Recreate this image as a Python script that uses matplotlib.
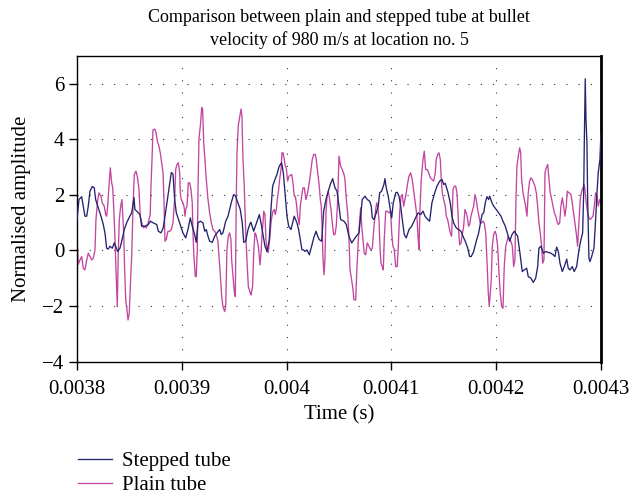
import matplotlib.pyplot as plt
import numpy as np

# time in microseconds, amplitude normalised
stepped_t = [3800.0, 3801.9, 3804.5, 3806.0, 3807.6, 3809.3, 3810.8, 3812.4, 3814.6, 3816.5,
             3817.8, 3820.3, 3822.9, 3825.1, 3826.7, 3828.3, 3829.9, 3831.5, 3833.7, 3835.6,
             3836.9, 3838.8, 3841.0, 3842.7, 3845.1, 3847.4, 3849.6, 3852.2, 3854.4, 3855.3,
             3857.0, 3860.1, 3861.7, 3864.9, 3868.0, 3869.9, 3872.8, 3876.1, 3877.6, 3880.2,
             3882.3, 3884.0, 3890.0, 3891.6, 3893.2, 3894.8, 3898.0, 3901.1, 3903.7, 3905.9,
             3908.1, 3910.0, 3912.3, 3913.8, 3915.5, 3917.7, 3920.2, 3921.9, 3923.4, 3925.0,
             3926.6, 3929.1, 3931.4, 3933.6, 3936.2, 3937.7, 3939.3, 3941.9, 3944.1, 3947.2,
             3949.5, 3951.4, 3953.6, 3955.8, 3957.7, 3959.1, 3961.0, 3963.2, 3965.4, 3966.0,
             3968.6, 3970.8, 3974.0, 3975.6, 3977.2, 3979.4, 3981.3, 3983.5, 3985.1, 3986.7,
             3988.9, 3990.8, 3993.0, 3995.3, 3996.9, 3998.5, 4000.4, 4002.0, 4004.2, 4005.8,
             4007.3, 4009.9, 4011.5, 4013.1, 4014.7, 4016.3, 4017.8, 4019.5, 4021.7, 4023.9,
             4025.9, 4028.1, 4029.7, 4031.2, 4033.5, 4035.4, 4037.6, 4039.8, 4041.7, 4044.0,
             4046.2, 4048.1, 4050.0, 4051.6, 4054.8, 4057.0, 4059.5, 4062.1, 4064.3, 4066.5,
             4069.1, 4070.7, 4072.2, 4074.8, 4077.0, 4079.3, 4080.8, 4081.8, 4083.4, 4085.6,
             4087.5, 4088.8, 4090.7, 4092.9, 4093.9, 4095.1, 4097.0, 4098.7, 4100.3, 4101.8,
             4104.1, 4105.6, 4107.3, 4108.9, 4110.4, 4112.3, 4114.2, 4116.8, 4119.4, 4121.6,
             4123.8, 4125.7, 4128.0, 4130.2, 4132.1, 4134.3, 4136.5, 4138.7, 4140.9, 4143.5,
             4146.1, 4148.3, 4149.9, 4151.4, 4153.7, 4156.2, 4157.8, 4159.4, 4161.9, 4164.2,
             4166.4, 4168.3, 4170.5, 4172.8, 4174.7, 4176.2, 4178.5, 4181.0, 4183.3, 4184.8,
             4186.5, 4188.1, 4189.6, 4191.2, 4192.8, 4193.8, 4196.0, 4197.6, 4200.1, 4202.4,
             4204.6, 4206.5, 4208.7, 4211.0, 4212.9, 4215.1, 4217.3, 4220.5, 4222.7, 4224.9,
             4226.8, 4229.1, 4230.6, 4233.2, 4235.4, 4237.7, 4239.6, 4240.8, 4242.7, 4245.0,
             4247.2, 4249.7, 4252.3, 4254.5, 4256.1, 4257.7, 4259.3, 4260.9, 4263.1, 4265.0,
             4267.3, 4268.8, 4270.4, 4272.6, 4274.5, 4276.8, 4279.0, 4280.9, 4282.5, 4283.5,
             4284.1, 4285.0, 4285.7, 4286.6, 4287.3, 4288.5, 4289.5, 4291.1, 4293.3, 4294.9,
             4296.2, 4297.4, 4299.0, 4300.0]
stepped_amp = [1.10, 1.83, 1.93, 1.60, 1.23, 1.23, 1.60, 2.13, 2.30, 2.25,
               1.83, 1.53, 1.23, 0.93, 0.63, 0.08, 0.05, 0.15, 0.08, 0.27,
               0.15, -0.04, 0.08, 0.33, 0.75, 0.99, 1.17, 1.35, 1.90, 1.47,
               1.41, 1.29, 0.87, 0.87, 0.93, 1.05, 0.99, 0.93, 0.69, 0.63,
               0.81, 1.23, 2.80, 2.75, 1.83, 1.35, 0.99, 0.63, 0.45, 0.75,
               1.17, 0.87, 0.57, 0.29, 0.99, 1.05, 0.99, 0.69, 0.75, 0.51,
               0.33, 0.29, 0.51, 0.63, 0.75, 0.57, 0.63, 1.05, 1.23, 1.71,
               2.01, 1.95, 1.71, 1.47, 0.99, 0.29, 0.33, 0.75, 0.99, 1.01,
               0.69, 0.93, 1.29, 0.99, 0.63, 0.15, -0.04, 0.39, 1.47, 2.31,
               2.55, 2.73, 3.03, 3.15, 2.79, 2.07, 1.23, 0.87, 0.75, 0.99,
               1.23, 0.99, 0.75, 0.39, 0.02, 0.02, -0.04, 0.02, -0.16, 0.15,
               0.45, 0.69, 0.51, 0.39, 0.33, 1.41, 1.83, 2.13, 2.37, 2.58,
               2.25, 2.13, 1.60, 1.11, 1.05, 0.93, 0.51, 0.27, 0.39, 0.51,
               0.63, 1.23, 1.83, 1.95, 1.83, 1.77, 1.59, 1.17, 1.11, 1.35,
               1.59, 2.07, 2.13, 2.37, 2.58, 2.25, 1.95, 1.53, 1.17, 1.71,
               2.07, 2.09, 1.95, 1.59, 1.11, 0.57, 0.45, 0.75, 0.87, 1.05,
               1.23, 1.35, 1.29, 1.41, 1.23, 1.13, 1.05, 1.71, 2.01, 2.31,
               2.49, 2.55, 2.37, 2.41, 2.13, 1.71, 1.23, 0.99, 0.81, 0.75,
               0.69, 0.51, 0.33, 0.09, -0.22, -0.22, -0.04, 0.33, 0.63, 0.93,
               1.29, 1.35, 1.71, 1.93, 1.83, 1.95, 1.71, 1.59, 1.47, 1.35,
               1.23, 1.05, 0.87, 0.57, 0.33, 0.57, 0.69, 0.51, -0.10, -0.76,
               -0.70, -0.64, -0.94, -1.00, -1.15, -1.00, -0.58, 0.08, 0.15, -0.10,
               -0.04, -0.07, -0.10, -0.16, -0.22, 0.12, -0.04, -0.46, -0.76, -0.58,
               -0.31, -0.64, -0.70, -0.58, -0.76, -0.58, 0.02, 0.39, 0.63, 2.07,
               3.88, 6.17, 4.72, 3.88, 1.83, -0.28, -0.40, -0.22, 0.08, 1.11,
               2.07, 2.79, 3.27, 4.24]

plain_t = [3800.0, 3801.2, 3802.9, 3804.5, 3806.0, 3807.6, 3809.3, 3810.8, 3812.4, 3814.0,
           3815.6, 3817.2, 3818.1, 3819.8, 3821.0, 3822.9, 3824.1, 3826.0, 3827.4, 3828.3,
           3829.3, 3830.5, 3831.8, 3833.1, 3834.1, 3835.0, 3836.3, 3837.2, 3838.5, 3839.4,
           3840.4, 3841.7, 3842.9, 3843.6, 3844.6, 3845.5, 3846.5, 3847.7, 3848.7, 3849.9,
           3850.9, 3852.2, 3853.4, 3854.7, 3856.3, 3857.5, 3859.2, 3860.4, 3861.1, 3862.3,
           3863.6, 3864.9, 3866.1, 3867.5, 3868.7, 3869.9, 3870.6, 3871.6, 3872.5, 3874.4,
           3875.7, 3876.6, 3878.2, 3879.5, 3880.8, 3882.1, 3883.0, 3884.0, 3885.2, 3886.8,
           3888.5, 3890.0, 3891.6, 3893.2, 3894.2, 3895.4, 3896.7, 3898.0, 3898.6, 3899.5,
           3901.1, 3902.1, 3903.1, 3903.7, 3905.0, 3906.2, 3907.5, 3908.8, 3910.0, 3910.7,
           3911.6, 3912.9, 3913.8, 3914.8, 3915.5, 3916.4, 3918.0, 3919.0, 3919.9, 3920.9,
           3922.1, 3923.4, 3925.0, 3926.6, 3928.2, 3929.8, 3931.4, 3932.9, 3934.5, 3935.5,
           3936.7, 3938.1, 3939.3, 3940.9, 3941.9, 3943.1, 3944.4, 3945.7, 3946.9, 3947.6,
           3948.9, 3950.1, 3951.1, 3952.0, 3952.7, 3953.9, 3955.2, 3956.5, 3957.4, 3958.4,
           3959.6, 3961.0, 3962.2, 3963.5, 3965.4, 3966.0, 3967.6, 3968.6, 3969.8, 3970.8,
           3971.8, 3973.0, 3974.0, 3974.6, 3975.6, 3976.5, 3977.5, 3978.2, 3979.4, 3980.3,
           3981.3, 3982.5, 3983.9, 3985.1, 3986.1, 3987.0, 3988.3, 3989.2, 3990.2, 3991.1,
           3992.1, 3993.4, 3994.7, 3995.6, 3996.6, 3997.8, 3998.8, 3999.7, 4001.0, 4002.3,
           4003.5, 4004.9, 4006.1, 4007.3, 4008.3, 4009.3, 4010.6, 4012.1, 4013.1, 4014.4,
           4015.6, 4016.9, 4018.5, 4020.1, 4021.7, 4023.3, 4024.5, 4025.9, 4027.4, 4028.3,
           4029.7, 4031.2, 4032.2, 4033.1, 4034.1, 4034.7, 4035.7, 4036.6, 4037.6, 4038.6,
           4039.8, 4041.1, 4042.4, 4043.6, 4044.9, 4046.2, 4047.4, 4048.8, 4050.0, 4051.6,
           4053.1, 4054.8, 4055.7, 4057.0, 4058.3, 4059.5, 4060.5, 4062.1, 4063.4, 4064.3,
           4065.9, 4067.2, 4068.4, 4069.8, 4070.7, 4071.7, 4072.9, 4074.1, 4075.5, 4077.0,
           4078.6, 4080.2, 4081.8, 4082.7, 4083.7, 4085.0, 4086.0, 4086.9, 4088.2, 4089.1,
           4090.1, 4091.3, 4092.3, 4093.2, 4094.6, 4096.1, 4097.7, 4099.3, 4100.3, 4101.5,
           4102.8, 4104.1, 4105.6, 4106.6, 4107.9, 4109.2, 4110.4, 4111.7, 4113.0, 4114.2,
           4115.6, 4116.8, 4118.4, 4119.9, 4121.6, 4123.2, 4124.4, 4125.4, 4126.3, 4127.3,
           4128.5, 4130.2, 4131.4, 4132.7, 4134.3, 4135.6, 4137.1, 4138.7, 4140.4, 4141.9,
           4142.8, 4144.2, 4145.4, 4146.7, 4147.6, 4148.6, 4149.9, 4151.4, 4152.4, 4153.7,
           4155.0, 4156.2, 4157.5, 4158.1, 4158.8, 4160.0, 4161.4, 4162.6, 4163.6, 4164.5,
           4165.2, 4166.4, 4167.7, 4169.0, 4170.2, 4171.5, 4172.8, 4173.7, 4174.7, 4175.9,
           4177.2, 4178.5, 4179.8, 4181.0, 4182.3, 4183.6, 4184.8, 4186.2, 4187.4, 4188.6,
           4190.0, 4191.2, 4192.5, 4193.4, 4194.4, 4195.3, 4196.3, 4197.6, 4198.9, 4200.1,
           4201.4, 4202.7, 4203.9, 4205.3, 4206.5, 4207.7, 4209.1, 4210.3, 4211.6, 4212.9,
           4214.1, 4215.4, 4216.7, 4217.9, 4218.9, 4219.8, 4221.1, 4222.4, 4223.4, 4224.3,
           4225.6, 4226.8, 4228.1, 4229.4, 4230.6, 4231.9, 4233.2, 4234.5, 4235.8, 4237.0,
           4238.3, 4239.6, 4240.8, 4242.1, 4243.4, 4244.4, 4245.6, 4246.6, 4247.8, 4249.2,
           4250.4, 4251.6, 4253.0, 4254.2, 4255.5, 4256.8, 4258.0, 4259.3, 4260.6, 4261.8,
           4263.1, 4264.4, 4265.6, 4266.9, 4267.8, 4269.5, 4271.4, 4272.6, 4273.9, 4275.2,
           4276.4, 4277.7, 4279.0, 4280.2, 4281.6, 4282.8, 4283.8, 4284.7, 4286.0, 4287.3,
           4288.5, 4289.8, 4291.1, 4292.4, 4293.6, 4294.9, 4296.2, 4297.4, 4298.8, 4300.0]
plain_amp = [0.50, -0.50, -0.34, -0.22, -0.64, -0.70, -0.34, -0.10, -0.22, -0.34,
             -0.28, 0.02, 1.11, 1.83, 2.07, 1.95, 1.71, 1.59, 1.29, 1.23,
             1.59, 2.31, 2.97, 2.43, 2.25, 1.59, 0.39, -0.70, -2.02, -0.10,
             1.11, 1.59, 1.83, 1.35, 0.63, -0.70, -1.78, -2.14, -2.50, -2.26,
             -1.30, -0.22, 1.47, 2.73, 2.85, 2.67, 2.19, 1.23, 1.11, 0.93,
             0.81, 0.87, 0.81, 0.93, 1.11, 1.29, 2.31, 3.27, 4.33, 4.36,
             4.18, 3.94, 3.75, 3.51, 3.15, 2.79, 1.83, 0.33, 0.39, 0.69,
             0.69, 0.75, 0.99, 1.83, 2.91, 3.09, 3.15, 2.79, 2.07, 1.83,
             1.71, 1.59, 1.23, 1.47, 1.59, 2.43, 2.43, 2.19, 1.71, 0.63,
             -0.22, -0.94, -0.94, 0.02, 2.19, 4.00, 4.60, 5.14, 5.08, 3.88,
             3.27, 2.55, 1.83, 1.35, 0.99, 0.75, 0.69, 0.57, 0.33, -0.22,
             -0.82, -1.66, -2.02, -2.20, -2.02, 0.02, 0.51, 0.63, 0.39, -0.34,
             -0.94, -1.48, -1.66, 1.83, 3.51, 4.48, 4.78, 5.08, 4.84, 3.27,
             2.31, 0.63, -0.34, -1.30, -1.54, -1.60, -1.30, -0.10, 0.63, 0.57,
             0.39, 0.15, -0.22, -0.52, -0.10, 0.51, 0.99, 1.41, 1.29, 0.39,
             -0.04, -0.07, 0.39, 0.99, 1.23, 1.41, 1.47, 1.29, 1.47, 1.83,
             2.07, 2.55, 2.91, 3.51, 3.51, 3.27, 3.03, 2.97, 2.49, 2.67,
             2.70, 2.73, 2.43, 1.95, 1.95, 1.71, 1.23, 0.93, 1.59, 1.95,
             2.25, 2.25, 1.83, 2.07, 2.43, 2.91, 3.27, 3.45, 3.45, 3.27,
             2.79, 2.31, 1.83, 1.59, 0.63, -0.22, -0.88, -0.34, 1.35, 1.95,
             2.13, 1.83, 1.47, 0.99, 0.57, 0.57, 0.87, 1.83, 3.39, 3.03,
             2.91, 2.73, 2.55, 1.83, 1.35, 0.51, -0.70, -1.06, -1.42, -1.78,
             -1.78, -0.58, 0.33, 1.11, 1.53, 0.87, 0.39, -0.10, -0.16, 0.27,
             0.15, 0.02, 0.08, 0.51, 0.99, 1.47, 1.71, 1.59, 1.11, 0.15,
             -0.46, -0.58, -0.70, 0.39, 1.41, 1.41, 1.35, 1.41, 0.63, 0.15,
             0.03, -0.58, -0.58, 0.15, 1.35, 1.95, 2.01, 1.59, 1.83, 2.07,
             2.43, 2.67, 2.79, 2.55, 2.07, 1.59, 1.23, 0.51, 0.03, 1.47,
             2.55, 3.27, 3.57, 2.91, 2.90, 2.79, 2.61, 2.55, 2.49, 2.79,
             3.27, 3.45, 3.51, 3.27, 2.55, 2.07, 1.83, 1.59, 1.23, 1.11,
             0.87, 0.63, 0.51, 1.23, 2.19, 2.31, 2.31, 2.07, 1.35, 0.51,
             0.20, 0.27, 0.57, 0.87, 1.47, 1.35, 1.11, 0.87, 0.93, 1.23,
             1.41, 1.59, 2.01, 1.83, 1.47, 1.23, 0.99, 0.99, 1.05, 0.99,
             0.63, -0.34, -1.54, -2.02, -1.54, -1.06, 0.15, 0.57, 0.69, 0.57,
             0.15, -0.82, -1.54, -2.02, -2.08, -0.58, 0.15, 0.33, 0.51, 0.39,
             0.33, 0.15, -0.58, -0.34, 1.83, 3.03, 3.39, 3.69, 3.51, 2.55,
             2.07, 1.83, 1.59, 1.23, 2.07, 2.49, 2.61, 2.55, 2.43, 2.31,
             2.07, 1.59, 0.99, 0.63, 0.15, -0.46, -0.34, 2.79, 2.97, 3.09,
             2.55, 2.07, 1.83, 1.59, 1.35, 1.23, 1.05, 0.93, 0.99, 1.59,
             1.89, 1.59, 1.23, 1.59, 2.13, 2.07, 2.01, 1.71, 1.35, 0.99,
             0.63, 0.15, 0.99, 1.83, 2.13, 2.25, 2.37, 2.19, 1.71, 1.35,
             1.17, 1.11, 1.17, 1.23, 1.59, 2.07, 1.95, 1.59, 1.83, 1.71]

x_ticks = [0.0038, 0.0039, 0.004, 0.0041, 0.0042, 0.0043]
x_labels = ['0.0038', '0.0039', '0.004', '0.0041', '0.0042', '0.0043']
y_ticks = [-4, -2, 0, 2, 4, 6]

plt.rcParams['font.family'] = ['Liberation Serif', 'DejaVu Serif']
plt.rcParams['font.size'] = 15

fig = plt.figure(figsize=(6.32, 4.96), dpi=100)
ax = fig.add_axes([0.1218, 0.2708, 0.8291, 0.6169])

ax.plot(np.array(stepped_t) * 1e-6, stepped_amp, color='#23236e', lw=0.95,
        label='Stepped tube', zorder=3)
ax.plot(np.array(plain_t) * 1e-6, plain_amp, color='#c2469f', lw=0.95,
        label='Plain tube', zorder=2)

ax.set_xlim(0.0038, 0.0043)
ax.set_ylim(-4, 7)
ax.set_xticks(x_ticks)
ax.set_xticklabels(x_labels)
ax.set_yticks(y_ticks)
ax.tick_params(direction='out', length=6, width=1, colors='black', labelsize=15)
ax.tick_params(axis='x', pad=7)
ax.tick_params(axis='y', pad=3)
ax.grid(True, color='#333333', linestyle=(0, (1, 10)), lw=0.8)
for side in ['top', 'left', 'bottom']:
    ax.spines[side].set_linewidth(1)
ax.spines['right'].set_linewidth(2.0)

ax.set_xlabel('Time (s)', fontsize=15, labelpad=5)
ax.set_ylabel('Normalised amplitude', fontsize=15, labelpad=8)
ax.set_title('Comparison between plain and stepped tube at bullet\n'
             'velocity of 980 m/s at location no. 5', fontsize=13, pad=8,
             linespacing=1.35)

fig.legend(loc='upper left', bbox_to_anchor=(0.11, 0.107), frameon=False,
           handlelength=1.65, handletextpad=0.45, labelspacing=0.22,
           fontsize=15, borderaxespad=0)

fig.savefig('out.png', dpi=100)
